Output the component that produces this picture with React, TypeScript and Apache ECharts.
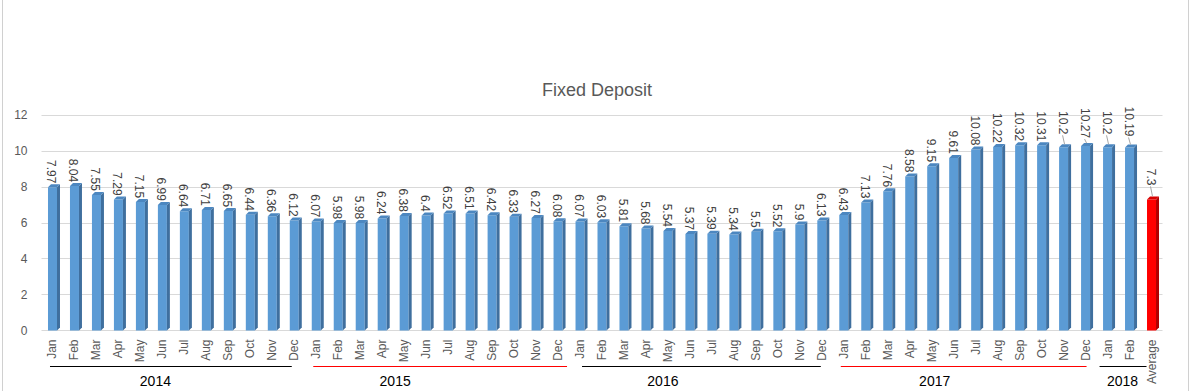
import React, { useEffect, useRef } from "react";
import * as echarts from "echarts";

const months = ["Jan", "Feb", "Mar", "Apr", "May", "Jun", "Jul", "Aug", "Sep", "Oct", "Nov", "Dec"];
const values2014 = [7.97, 8.04, 7.55, 7.29, 7.15, 6.99, 6.64, 6.71, 6.65, 6.44, 6.36, 6.12];
const values2015 = [6.07, 5.98, 5.98, 6.24, 6.38, 6.4, 6.52, 6.51, 6.42, 6.33, 6.27, 6.08];
const values2016 = [6.07, 6.03, 5.81, 5.68, 5.54, 5.37, 5.39, 5.34, 5.5, 5.52, 5.9, 6.13];
const values2017 = [6.43, 7.13, 7.76, 8.58, 9.15, 9.61, 10.08, 10.22, 10.32, 10.31, 10.2, 10.27];
const values2018 = [10.2, 10.19];
const averageValue = 7.3;
const averageLabel = "Average";

const categories = [...months, ...months, ...months, ...months, "Jan", "Feb", averageLabel];
const values = [...values2014, ...values2015, ...values2016, ...values2017, ...values2018, averageValue];

const years = ["2014", "2015", "2016", "2017", "2018"];
const yearStart = [0, 12, 24, 36, 48];
const yearEnd = [11, 23, 35, 47, 49];

const yMin = 0;
const yMax = 12;
const yInterval = 2;

// styling / layout (not data)
const yearLineColors = ["#000000", "#FF0000", "#000000", "#FF0000", "#000000"];
const yearLineOffsets = [[-2.5, -2.5], [-3, 9], [2, -1], [-3, 1], [-8, 17]];
const yearLabelShift = [-18, -42, -38, -30, 4];
const leaderRaise: Record<number, number> = { 46: 9, 47: 4, 48: 9, 49: 7, 50: 10 };

export default function App() {
  const ref = useRef<HTMLDivElement>(null);
  useEffect(() => {
    document.body.style.margin = "0";
    if (!ref.current) return;
    const chart = echarts.init(ref.current, undefined, { renderer: "svg" });
    const lastIdx = values.length - 1;
    const font = "12px 'Liberation Sans', Arial, sans-serif";

    const option: any = {
      animation: false,
      backgroundColor: "#ffffff",
      title: {
        text: "Fixed Deposit",
        left: "center",
        top: 76,
        textStyle: {
          color: "#595959",
          fontSize: 18,
          fontWeight: "normal",
          fontFamily: "'Liberation Sans', Arial, sans-serif",
        },
      },
      grid: { left: 41.5, right: 31.5, top: 115, bottom: 60.5, containLabel: false },
      xAxis: {
        type: "category",
        data: categories,
        axisLine: { show: false },
        axisTick: { show: false },
        axisLabel: {
          interval: 0,
          rotate: 90,
          margin: 9,
          color: "#595959",
          fontSize: 12,
          fontFamily: "'Liberation Sans', Arial, sans-serif",
        },
      },
      yAxis: {
        type: "value",
        min: yMin,
        max: yMax,
        interval: yInterval,
        axisLine: { show: false },
        axisTick: { show: false },
        splitLine: { lineStyle: { color: "#D9D9D9", width: 1 } },
        axisLabel: {
          margin: 14,
          color: "#595959",
          fontSize: 12,
          padding: [6, 0, 0, 0],
          fontFamily: "'Liberation Sans', Arial, sans-serif",
        },
      },
      graphic: [
        { type: "line", shape: { x1: 2.5, y1: 0, x2: 2.5, y2: 391 }, style: { stroke: "#D0D0D0", lineWidth: 1 } },
        { type: "line", shape: { x1: 1188.5, y1: 0, x2: 1188.5, y2: 391 }, style: { stroke: "#D0D0D0", lineWidth: 1 } },
      ],
      series: [
        {
          type: "custom",
          clip: false,
          data: values.map((v, i) => [i, v]),
          renderItem: (params: any, api: any) => {
            const i = api.value(0);
            const v = api.value(1);
            const top = api.coord([i, v]);
            const base = api.coord([i, 0]);
            const cx = top[0];
            const w = 9;
            const d = 3;
            const x0 = cx - 4.5;
            const x1 = x0 + w;
            const ty = top[1];
            const by = base[1];
            const isAvg = i === lastIdx;
            const front = isAvg ? "#FF0000" : "#5B9BD5";
            const side = isAvg ? "#B00000" : "#3F6F9E";
            const topC = isAvg ? "#D80000" : "#4C87C0";
            const raise = leaderRaise[i] || 0;
            const anchorY = ty - 4 - raise;
            const children: any[] = [
              { type: "rect", shape: { x: x0, y: ty, width: w, height: by - ty }, style: { fill: front } },
              {
                type: "polygon",
                shape: { points: [[x1, ty], [x1 + d, ty - d], [x1 + d, by - d], [x1, by]] },
                style: { fill: side },
              },
              {
                type: "polygon",
                shape: { points: [[x0, ty], [x0 + d, ty - d], [x1 + d, ty - d], [x1, ty]] },
                style: { fill: topC },
              },
              {
                type: "text",
                x: cx - 1,
                y: anchorY,
                rotation: -Math.PI / 2,
                style: {
                  text: String(v),
                  fill: "#404040",
                  font,
                  align: "right",
                  verticalAlign: "middle",
                  textAlign: "right",
                  textVerticalAlign: "middle",
                },
              },
            ];
            if (raise) {
              children.push({
                type: "line",
                shape: { x1: cx - 1, y1: anchorY + 1, x2: cx + 1, y2: ty - d },
                style: { stroke: "#A6A6A6", lineWidth: 1 },
              });
            }
            return { type: "group", children };
          },
          z: 3,
        },
        {
          type: "custom",
          clip: false,
          silent: true,
          data: years.map((y, k) => [yearStart[k], yearEnd[k], k]),
          renderItem: (params: any, api: any) => {
            const k = api.value(2);
            const s = api.coord([api.value(0), 0]);
            const e = api.coord([api.value(1), 0]);
            const ly = Math.round(s[1] + 35) + 0.5;
            const off = yearLineOffsets[k];
            const mid = (s[0] + e[0]) / 2 + yearLabelShift[k];
            return {
              type: "group",
              children: [
                {
                  type: "line",
                  shape: { x1: s[0] + off[0], y1: ly, x2: e[0] + off[1], y2: ly },
                  style: { stroke: yearLineColors[k], lineWidth: 1 },
                },
                {
                  type: "text",
                  x: mid,
                  y: ly + 14,
                  style: {
                    text: years[k],
                    fill: "#000000",
                    font: "14px 'Liberation Sans', Arial, sans-serif",
                    align: "center",
                    verticalAlign: "middle",
                    textAlign: "center",
                    textVerticalAlign: "middle",
                  },
                },
              ],
            };
          },
          z: 3,
        },
      ],
    };
    chart.setOption(option);
    return () => chart.dispose();
  }, []);
  return <div ref={ref} style={{ width: 1194, height: 391 }} />;
}
